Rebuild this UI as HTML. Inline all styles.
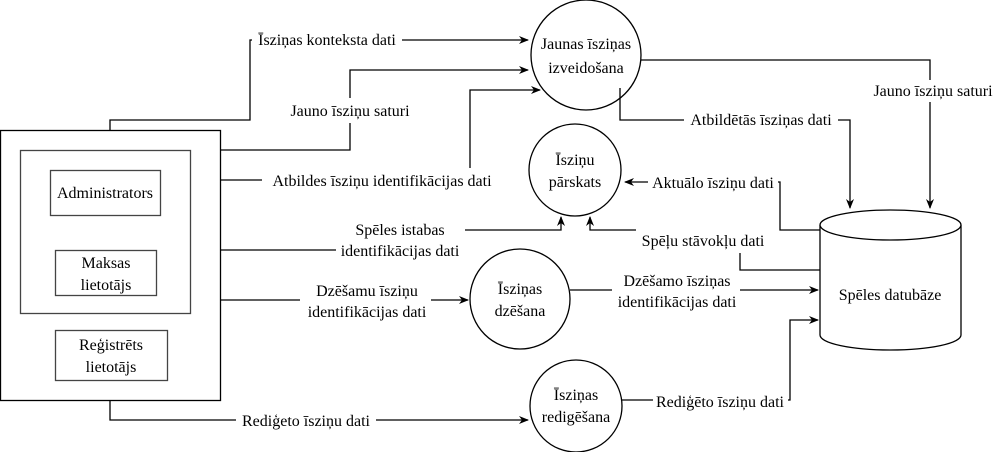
<!DOCTYPE html>
<html><head><meta charset="utf-8"><style>
html,body{margin:0;padding:0;background:#fff;}
svg{display:block;}
svg text{font-family:'Liberation Serif','Times New Roman','DejaVu Serif',serif;font-size:16px;fill:#000;}
</style></head><body>
<svg width="998" height="452" viewBox="0 0 998 452" xmlns="http://www.w3.org/2000/svg">
<defs>
<marker id="a" markerWidth="10" markerHeight="10" refX="9" refY="5" orient="auto" markerUnits="userSpaceOnUse">
<path d="M0,1 L10,5 L0,9 L3,5 Z" fill="#000"/>
</marker>
</defs>
<g fill="none" stroke="#000" stroke-width="1.3">
<rect x="0.5" y="130.5" width="220" height="270"/>
<rect x="20.5" y="150.5" width="170" height="163" stroke="#444"/>
<rect x="50.5" y="170.5" width="110" height="45" stroke="#444"/>
<rect x="55.5" y="250.5" width="101" height="45" stroke="#444"/>
<rect x="55.5" y="330.5" width="112" height="50" stroke="#444"/>
<circle cx="586" cy="55" r="55"/>
<circle cx="575" cy="170" r="46"/>
<circle cx="520" cy="299" r="50"/>
<circle cx="576" cy="406" r="46"/>
<path d="M820,225 L820,335 A70.5,15 0 0 0 961,335 L961,225"/>
<ellipse cx="890.5" cy="225" rx="70.5" ry="15" fill="#fff"/>

<path d="M110,130 V120 H250 V40 H252"/>
<path d="M402,40 H528" marker-end="url(#a)"/>
<path d="M220,150 H350 V123"/>
<path d="M350,98 V70 H528" marker-end="url(#a)"/>
<path d="M220,180 H262"/>
<path d="M470,168 V90 H540" marker-end="url(#a)"/>
<path d="M220,250 H336"/>
<path d="M465,230 H561 V217" marker-end="url(#a)"/>
<path d="M220,300 H300"/>
<path d="M431,300 H468" marker-end="url(#a)"/>
<path d="M110,400 V420 H236"/>
<path d="M376,420 H528" marker-end="url(#a)"/>
<path d="M641,60 H930 V80"/>
<path d="M930,102 V208" marker-end="url(#a)"/>
<path d="M620,88 V120 H684"/>
<path d="M838,120 H850 V208" marker-end="url(#a)"/>
<path d="M820,230 H780 V182 H778"/>
<path d="M648,182 H625" marker-end="url(#a)"/>
<path d="M820,270 H740 V253"/>
<path d="M636,230 H590 V217" marker-end="url(#a)"/>
<path d="M570,290 H612"/>
<path d="M740,290 H818" marker-end="url(#a)"/>
<path d="M621,400 H653"/>
<path d="M788,400 H790 V320 H818" marker-end="url(#a)"/>
</g>
<g text-anchor="middle" font-family="Liberation Serif, Times New Roman, DejaVu Serif, serif" font-size="16">
<text x="105" y="198">Administrators</text>
<text x="106" y="268">Maksas</text>
<text x="106" y="290">lietotājs</text>
<text x="111" y="350">Reģistrēts</text>
<text x="111" y="372">lietotājs</text>
<text x="586" y="49">Jaunas īsziņas</text>
<text x="586" y="73">izveidošana</text>
<text x="575" y="165">Īsziņu</text>
<text x="575" y="187">pārskats</text>
<text x="520" y="294">Īsziņas</text>
<text x="520" y="316">dzēšana</text>
<text x="576" y="400">Īsziņas</text>
<text x="576" y="422">redigēšana</text>
<text x="890" y="300">Spēles datubāze</text>
<text x="327" y="45">Īsziņas konteksta dati</text>
<text x="350" y="116">Jauno īsziņu saturi</text>
<text x="382" y="186">Atbildes īsziņu identifikācijas dati</text>
<text x="400" y="235">Spēles istabas</text>
<text x="400" y="256">identifikācijas dati</text>
<text x="367" y="296">Dzēšamu īsziņu</text>
<text x="367" y="317">identifikācijas dati</text>
<text x="306" y="426">Rediģeto īsziņu dati</text>
<text x="933" y="96">Jauno īsziņu saturi</text>
<text x="761" y="125">Atbildētās īsziņas dati</text>
<text x="713" y="188">Aktuālo īsziņu dati</text>
<text x="703" y="246">Spēļu stāvokļu dati</text>
<text x="677" y="286">Dzēšamo īsziņas</text>
<text x="677" y="307">identifikācijas dati</text>
<text x="720" y="407">Rediģēto īsziņu dati</text>
</g>
</svg>
</body></html>
